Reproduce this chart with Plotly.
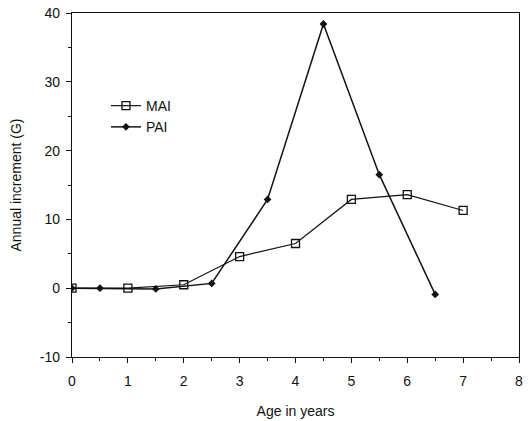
import plotly.graph_objects as go

# Mean annual increment, sampled at whole years
mai_age = [0, 1, 2, 3, 4, 5, 6, 7]
mai_val = [0, 0, 0.5, 4.6, 6.5, 12.9, 13.6, 11.3]

# Periodic annual increment, sampled at half years
pai_age = [0, 0.5, 1.5, 2.5, 3.5, 4.5, 5.5, 6.5]
pai_val = [0, 0, -0.1, 0.7, 12.9, 38.4, 16.5, -0.9]

x_ticks = [0, 1, 2, 3, 4, 5, 6, 7, 8]
y_ticks = [-10, 0, 10, 20, 30, 40]
y_tick_text = ["-10", "0", "10", "20", "30", "40"]

font_family = "Liberation Sans, Arial, sans-serif"

fig = go.Figure()
fig.add_trace(go.Scatter(
    x=pai_age, y=pai_val, name="PAI", mode="lines+markers",
    line=dict(color="#111", width=1.5),
    marker=dict(symbol="diamond", size=6, color="#111"),
))
fig.add_trace(go.Scatter(
    x=mai_age, y=mai_val, name="MAI", mode="lines+markers",
    line=dict(color="#111", width=1.2),
    marker=dict(symbol="square-open", size=8, color="#111",
                line=dict(width=1.3)),
))

axis_common = dict(
    showgrid=False, zeroline=False, showline=True, linecolor="#111",
    linewidth=1.3, mirror=True, ticks="outside", ticklen=5, tickwidth=1.3,
    tickcolor="#111", tickfont=dict(family=font_family, size=14, color="#111"),
    automargin=False,
)

fig.update_layout(
    width=531, height=421,
    margin=dict(l=72, r=12, t=13, b=64),
    paper_bgcolor="white", plot_bgcolor="white",
    font=dict(family=font_family, color="#111"),
    showlegend=True,
    legend=dict(
        x=0.076, y=0.776, xanchor="left", yanchor="top",
        traceorder="reversed", bgcolor="rgba(0,0,0,0)",
        font=dict(family=font_family, size=14, color="#111"),
        itemwidth=30, tracegroupgap=0,
    ),
    xaxis=dict(
        range=[0, 8], tickvals=x_ticks, ticklabelstandoff=6,
        title=dict(text="Age in years", font=dict(size=14), standoff=18),
        minor=dict(ticks="outside", dtick=0.5, ticklen=3, tickcolor="#111"),
        **axis_common,
    ),
    yaxis=dict(
        range=[-10, 40], tickvals=y_ticks, ticktext=y_tick_text,
        ticklabelstandoff=3,
        title=dict(text="Annual increment (G)", font=dict(size=14), standoff=14),
        minor=dict(ticks="outside", dtick=5, ticklen=3, tickcolor="#111"),
        **axis_common,
    ),
)

fig.write_html("out.html")
